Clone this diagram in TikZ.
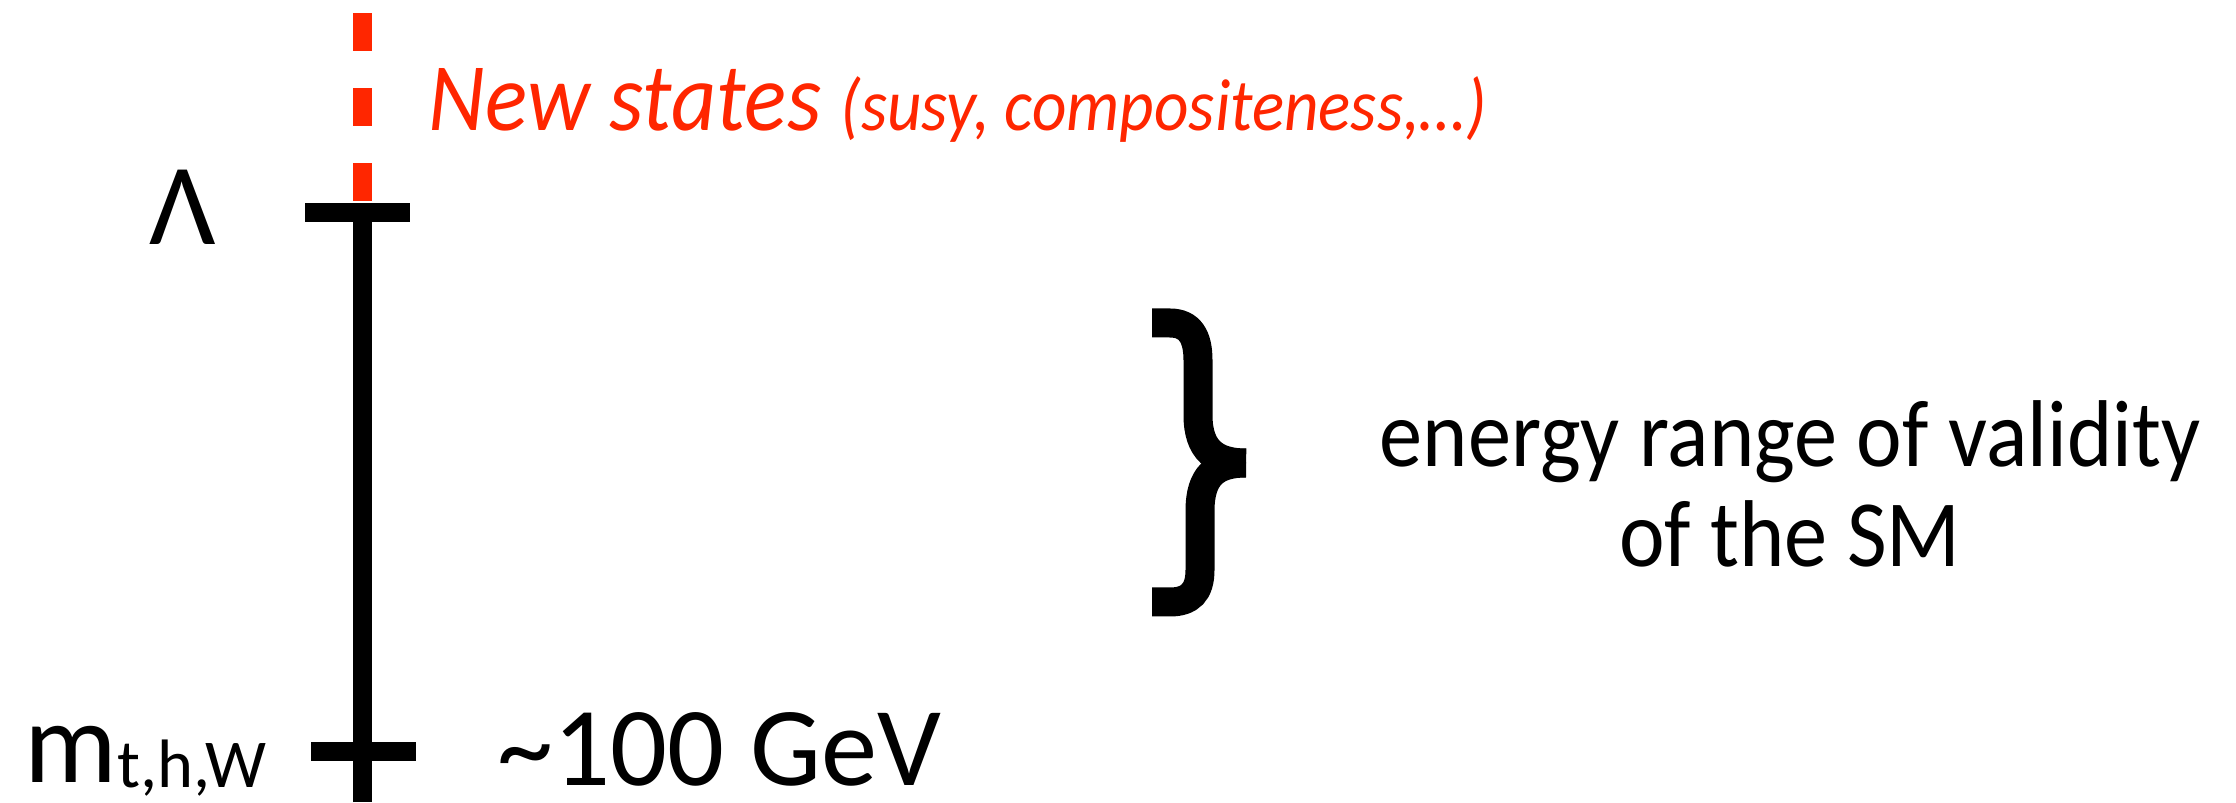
\documentclass[tikz,border=0pt]{standalone}
\usepackage{fontspec}
\setmainfont{Carlito}
\newfontfamily\slimfont{Carlito}[FakeStretch=0.91]
\usetikzlibrary{positioning}
\definecolor{newRed}{HTML}{FF2600}

\begin{document}
\begin{tikzpicture}[
  lbl/.style={inner sep=0pt, text depth=0pt, font=\fontsize{33}{40}\selectfont},
  bar/.style={line width=0.19cm},
  brace/.style={line width=0.29cm, line cap=butt}]
  \useasboundingbox (0,0) rectangle (22.36,8.02);
  % scale axis: bottom end, the two marks, top of the dashed part
  \coordinate (low) at (3.625,0);
  \coordinate (ew) at (3.625,0.51);
  \coordinate (cut) at (3.625,5.895);
  \coordinate (dashlo) at (3.625,6.01);
  \coordinate (dashhi) at (3.625,7.885);
  \draw[bar] (low) -- (cut);
  \draw[bar] (3.05,5.895) -- (4.10,5.895);
  \draw[bar] (3.11,0.51) -- (4.16,0.51);
  \draw[bar, newRed, dash pattern=on 0.375cm off 0.375cm] (dashlo) -- (dashhi);
  % labels on the left and right of the marks
  \node[lbl, anchor=base] (lam) at (1.83,5.57) {Λ};
  \node[lbl, anchor=base west] (mass) at (0.24,0.20)
    {m\raisebox{-0.06cm}{\fontsize{19.5}{22}\selectfont t,h,W}};
  \node[lbl, font=\fontsize{32}{40}\selectfont, anchor=base west] (gev)
    at (4.97,0.17) {\textasciitilde 100 GeV};
  \node[inner sep=0pt, anchor=base west, text=newRed] (newst) at (4.28,6.71)
    {\slimfont\itshape\fontsize{27.5}{34}\selectfont New states
     {\fontsize{21}{24}\selectfont (susy, compositeness,\dots)}};
  % brace, drawn as two halves meeting at the tip
  \coordinate (tip) at (12.46,3.39);
  \draw[brace] (11.52,4.79) -- (11.70,4.79)
    .. controls (11.90,4.79) and (11.98,4.65) .. (11.98,4.42)
    -- (11.98,3.87) .. controls (11.98,3.52) and (12.15,3.39) .. (tip);
  \draw[brace] (tip) .. controls (12.15,3.39) and (12.00,3.26) .. (12.00,2.91)
    -- (12.00,2.32) .. controls (12.00,2.10) and (11.90,2.00) .. (11.70,2.00)
    -- (11.52,2.00);
  \node[inner sep=0pt, font=\slimfont\fontsize{27}{28.5}\selectfont,
    align=center, anchor=base] (valid) at (17.90,2.35)
    {energy range of validity\\of the SM};
\end{tikzpicture}
\end{document}
